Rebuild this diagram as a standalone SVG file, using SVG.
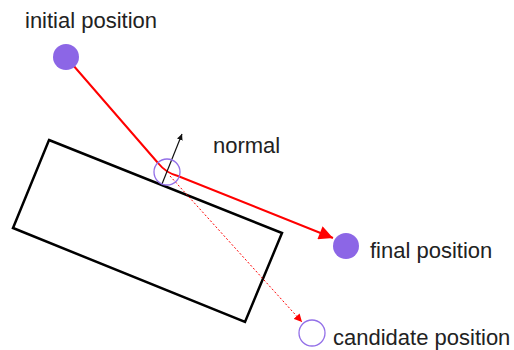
<svg xmlns="http://www.w3.org/2000/svg" width="514" height="350" viewBox="0 0 514 350">
<defs>
<style>
text{font-family:"Liberation Sans",Arial,sans-serif;font-size:22px;fill:#222}
.dot{fill:#8c66e6}
.ring{fill:none;stroke:#9370e8;stroke-width:1.3}
</style>
<marker id="ar" viewBox="0 0 10 10" refX="10" refY="5" markerWidth="6" markerHeight="6" orient="auto" markerUnits="userSpaceOnUse"><path d="M0,0 L10,5 L0,10z" fill="#111"/></marker>
<marker id="rbig" viewBox="0 0 10 10" refX="10" refY="5" markerWidth="16" markerHeight="14" orient="auto" markerUnits="userSpaceOnUse"><path d="M0,0 L10,5 L0,10z" fill="#f00"/></marker>
<marker id="rsm" viewBox="0 0 10 10" refX="10" refY="5" markerWidth="8" markerHeight="8" orient="auto" markerUnits="userSpaceOnUse"><path d="M0,0 L10,5 L0,10z" fill="#f00"/></marker>
</defs>
<rect width="514" height="350" fill="#fff"/>
<g id="obstacle"><polygon points="49,140 282,233 245,322 13,228" fill="none" stroke="#000" stroke-width="2.5" stroke-linejoin="miter"/></g>
<g id="connectors">
<path d="M66,57 L158,163 Q166,173 178,176 L333,238" fill="none" stroke="#f00" stroke-width="2" marker-end="url(#rbig)"/>
<path d="M170,176 L302,322" fill="none" stroke="#f00" stroke-width="1" stroke-dasharray="2,2" marker-end="url(#rsm)"/>
<path d="M162,184 L182,134" fill="none" stroke="#111" stroke-width="1.2" marker-end="url(#ar)"/>
</g>
<g id="initial"><circle class="dot" cx="66" cy="57" r="13"/><text x="25" y="28">initial position</text></g>
<g id="contact"><circle class="ring" cx="167" cy="172" r="13"/></g>
<g id="normal"><text x="213" y="153">normal</text></g>
<g id="final"><circle class="dot" cx="346" cy="246" r="13"/><text x="370" y="258">final position</text></g>
<g id="candidate"><circle class="ring" cx="312" cy="333" r="13"/><text x="333" y="345">candidate position</text></g>
</svg>
